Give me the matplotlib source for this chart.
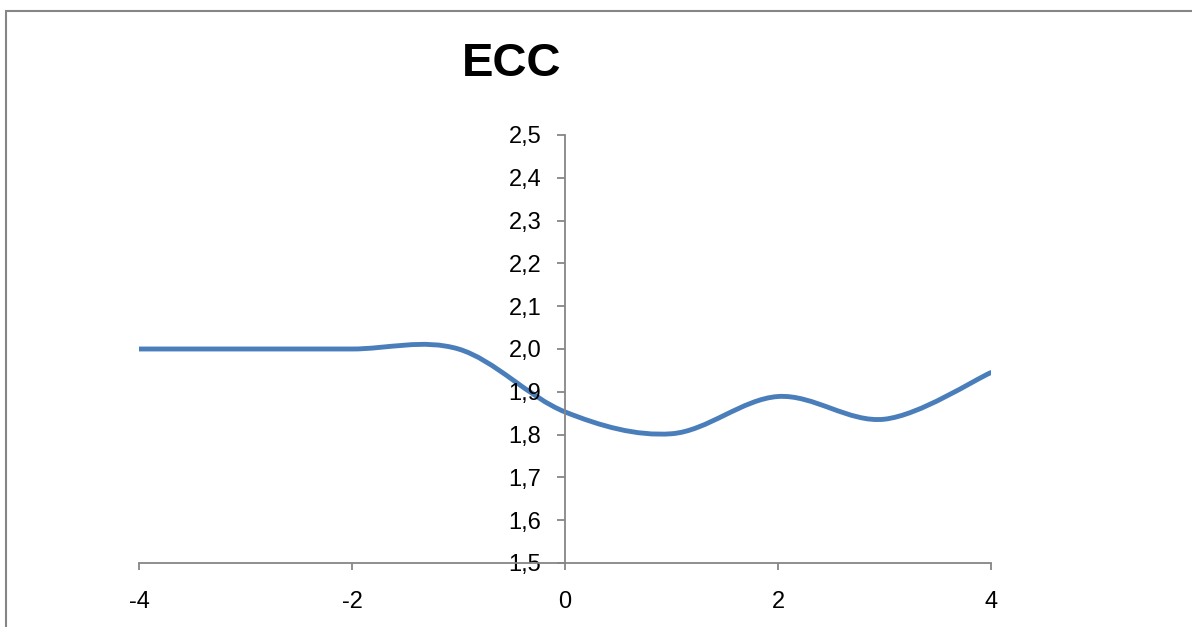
import numpy as np
import matplotlib
matplotlib.use("Agg")
import matplotlib.pyplot as plt
from matplotlib.path import Path
from matplotlib.patches import PathPatch, Rectangle
from matplotlib.ticker import FuncFormatter

plt.rcParams['font.family'] = ['Liberation Sans', 'DejaVu Sans']

# data
x = [-4, -3, -2, -1, 0, 1, 2, 3, 4]
ecc = [2.0, 2.0, 2.0, 2.0, 1.853, 1.802, 1.889, 1.836, 1.945]
x_ticks = [-4, -2, 0, 2, 4]
y_ticks = [1.5, 1.6, 1.7, 1.8, 1.9, 2.0, 2.1, 2.2, 2.3, 2.4, 2.5]

line_color = '#4a7ebb'
axis_color = '#868686'


def smooth_path(xs, ys):
    # Excel-like smoothed line: cubic bezier segments through the points
    p = np.column_stack([xs, ys]).astype(float)
    verts = [p[0]]
    codes = [Path.MOVETO]
    n = len(p)
    for i in range(n - 1):
        p0 = p[max(i - 1, 0)]
        p1 = p[i]
        p2 = p[i + 1]
        p3 = p[min(i + 2, n - 1)]
        c1 = p1 + (p2 - p0) / 6.0
        c2 = p2 - (p3 - p1) / 6.0
        verts += [c1, c2, p2]
        codes += [Path.CURVE4] * 3
    return Path(verts, codes)


fig = plt.figure(figsize=(11.92, 6.27), dpi=100)
ax = fig.add_axes([139 / 1192, 64 / 627, 852 / 1192, 428 / 627])

ax.add_patch(PathPatch(smooth_path(x, ecc), facecolor='none', edgecolor=line_color,
                       lw=3.5, capstyle='round', joinstyle='round'))

ax.set_xlim(-4, 4)
ax.set_ylim(1.5, 2.5)
ax.set_xticks(x_ticks)
ax.set_yticks(y_ticks)
ax.yaxis.set_major_formatter(FuncFormatter(lambda v, pos: f"{v:.1f}".replace('.', ',')))
ax.xaxis.set_major_formatter(FuncFormatter(lambda v, pos: f"{v:g}"))

ax.spines['left'].set_position(('data', 0))
ax.spines['top'].set_visible(False)
ax.spines['right'].set_visible(False)
for s in ('left', 'bottom'):
    ax.spines[s].set_color(axis_color)
    ax.spines[s].set_linewidth(1.3)

ax.tick_params(axis='x', direction='out', length=5, width=1.3, color=axis_color,
               pad=15, labelsize=17, labelcolor='black')
ax.tick_params(axis='y', direction='out', length=6, width=1.3, color=axis_color,
               pad=11, labelsize=17, labelcolor='black')

fig.text(512 / 1192, 1 - 64 / 627, 'ECC', fontsize=34, fontweight='bold',
         ha='center', va='center')

# chart area border (only top and left visible in the picture)
fig.add_artist(Rectangle((6 / 1192, -0.1), 1.2, 1 - 11 / 627 + 0.1,
                         transform=fig.transFigure, fill=False,
                         edgecolor=axis_color, lw=1.5))

fig.savefig('out.png', dpi=100)
